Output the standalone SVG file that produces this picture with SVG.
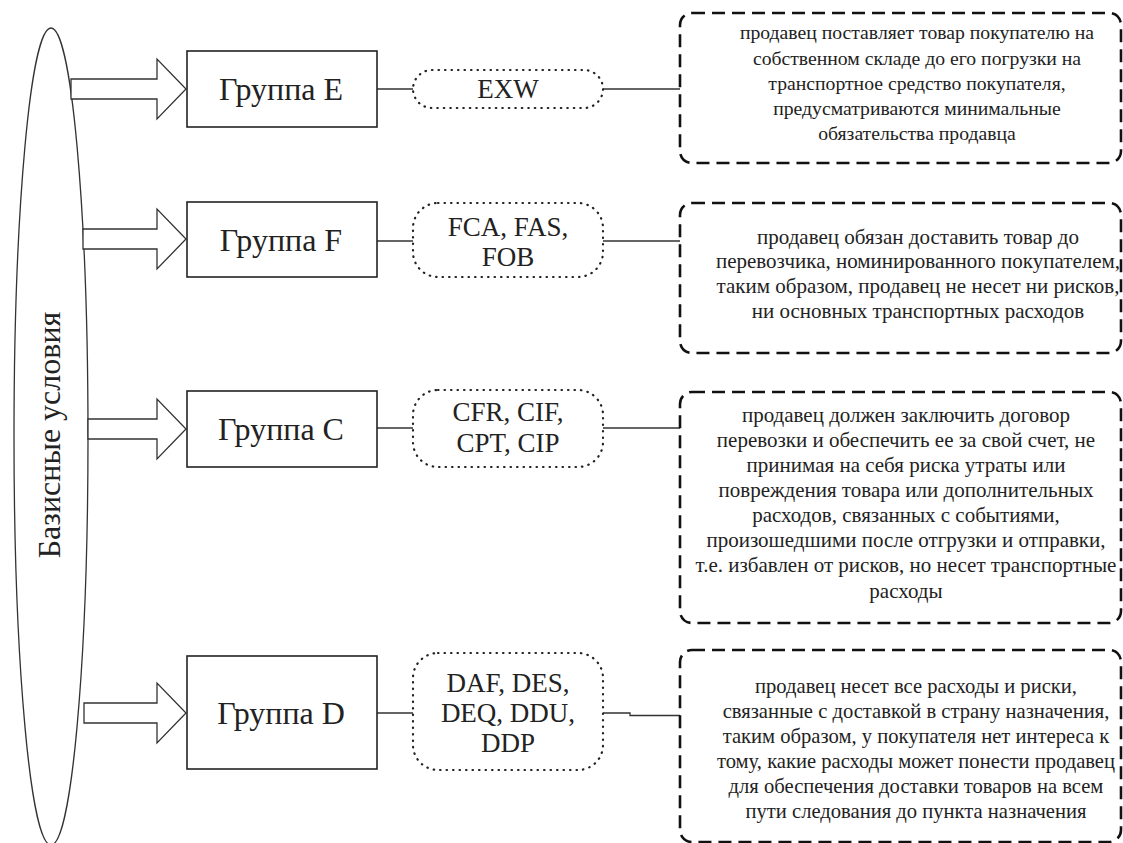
<svg xmlns="http://www.w3.org/2000/svg" width="1123" height="843" viewBox="0 0 1123 843" font-family="'Liberation Serif', 'Times New Roman', 'DejaVu Serif', serif">
<style>
text{font-family:'Liberation Serif','Times New Roman','DejaVu Serif',serif;fill:#222}
.grp{font-size:32px;text-anchor:middle}
.code{font-size:27px;text-anchor:middle}
.desc{text-anchor:middle}
.box{fill:#fff;stroke:#222;stroke-width:1.6}
.pill{fill:#fff;stroke:#222;stroke-width:2.2;stroke-dasharray:0.5 6;stroke-linecap:round}
.dash{fill:#fff;stroke:#111;stroke-width:2.6;stroke-dasharray:13 7}
.arr{fill:#fff;stroke:#333;stroke-width:1.3;stroke-linejoin:miter}
.ln{fill:none;stroke:#333;stroke-width:1.3}
</style>
<rect width="1123" height="843" fill="#fff"/>
<g id="root">
<ellipse cx="51" cy="436.5" rx="37" ry="408.5" fill="#fff" stroke="#333" stroke-width="1.3"/>
<text transform="translate(60,435) rotate(-90)" style="font-size:32px;text-anchor:middle">Базисные условия</text>
</g>
<g id="connectors">
<path class="arr" d="M71,79 H157 V59 L186,89 L157,119 V99 H71 Z"/>
<path class="arr" d="M83,229 H157 V209 L186,239 L157,269 V249 H83 Z"/>
<path class="arr" d="M88,419 H157 V399 L186,429 L157,459 V439 H88 Z"/>
<path class="arr" d="M84,703 H157 V683 L186,713 L157,743 V723 H84 Z"/>
<path class="ln" d="M377,89 H413 M603,89 H680"/>
<path class="ln" d="M377,241 H413 M603,241 H680"/>
<path class="ln" d="M377,428 H413 M603,428 H680"/>
<path class="ln" d="M377,713 H413 M603,713 H630 V715.5 H680"/>
</g>
<g id="groupE">
<rect class="box" x="187" y="51" width="190" height="76"/>
<text class="grp" x="281" y="100">Группа E</text>
</g>
<g id="groupF">
<rect class="box" x="187" y="202" width="190" height="75"/>
<text class="grp" x="281" y="251">Группа F</text>
</g>
<g id="groupC">
<rect class="box" x="187" y="391" width="190" height="76"/>
<text class="grp" x="281" y="440">Группа C</text>
</g>
<g id="groupD">
<rect class="box" x="187" y="656" width="190" height="113"/>
<text class="grp" x="281" y="724">Группа D</text>
</g>
<g id="codeE">
<rect class="pill" x="413" y="70" width="190" height="38" rx="19"/>
<text class="code" x="508" y="98">EXW</text>
</g>
<g id="codeF">
<rect class="pill" x="413" y="203" width="190" height="74" rx="25"/>
<text class="code" x="508" y="236">FCA, FAS,</text>
<text class="code" x="508" y="266">FOB</text>
</g>
<g id="codeC">
<rect class="pill" x="413" y="390" width="190" height="77" rx="25"/>
<text class="code" x="508" y="421">CFR, CIF,</text>
<text class="code" x="508" y="452">CPT, CIP</text>
</g>
<g id="codeD">
<rect class="pill" x="413" y="653" width="190" height="117" rx="25"/>
<text class="code" x="508" y="692">DAF, DES,</text>
<text class="code" x="508" y="722">DEQ, DDU,</text>
<text class="code" x="508" y="752">DDP</text>
</g>
<g id="descE" style="font-size:19.7px">
<rect class="dash" x="680" y="13" width="441" height="150" rx="12"/>
<text class="desc" x="917" y="39">продавец поставляет товар покупателю на</text>
<text class="desc" x="917" y="65">собственном складе до его погрузки на</text>
<text class="desc" x="917" y="90">транспортное средство покупателя,</text>
<text class="desc" x="917" y="115">предусматриваются минимальные</text>
<text class="desc" x="917" y="140">обязательства продавца</text>
</g>
<g id="descF" style="font-size:21px">
<rect class="dash" x="680" y="203" width="441" height="150" rx="12"/>
<text class="desc" x="918" y="244">продавец обязан доставить товар до</text>
<text class="desc" x="918" y="268">перевозчика, номинированного покупателем,</text>
<text class="desc" x="918" y="293">таким образом, продавец не несет ни рисков,</text>
<text class="desc" x="918" y="318">ни основных транспортных расходов</text>
</g>
<g id="descC" style="font-size:21px">
<rect class="dash" x="680" y="392" width="441" height="231" rx="12"/>
<text class="desc" x="906" y="422">продавец должен заключить договор</text>
<text class="desc" x="906" y="447">перевозки и обеспечить ее за свой счет, не</text>
<text class="desc" x="906" y="472">принимая на себя риска утраты или</text>
<text class="desc" x="906" y="497">повреждения товара или дополнительных</text>
<text class="desc" x="906" y="522">расходов, связанных с событиями,</text>
<text class="desc" x="906" y="547">произошедшими после отгрузки и отправки,</text>
<text class="desc" x="906" y="572">т.е. избавлен от рисков, но несет транспортные</text>
<text class="desc" x="906" y="598">расходы</text>
</g>
<g id="descD" style="font-size:20.6px">
<rect class="dash" x="680" y="650" width="441" height="192" rx="12"/>
<text class="desc" x="916" y="693">продавец несет все расходы и риски,</text>
<text class="desc" x="916" y="718">связанные с доставкой в страну назначения,</text>
<text class="desc" x="916" y="743">таким образом, у покупателя нет интереса к</text>
<text class="desc" x="916" y="768">тому, какие расходы может понести продавец</text>
<text class="desc" x="916" y="793">для обеспечения доставки товаров на всем</text>
<text class="desc" x="916" y="818">пути следования до пункта назначения</text>
</g>
</svg>
